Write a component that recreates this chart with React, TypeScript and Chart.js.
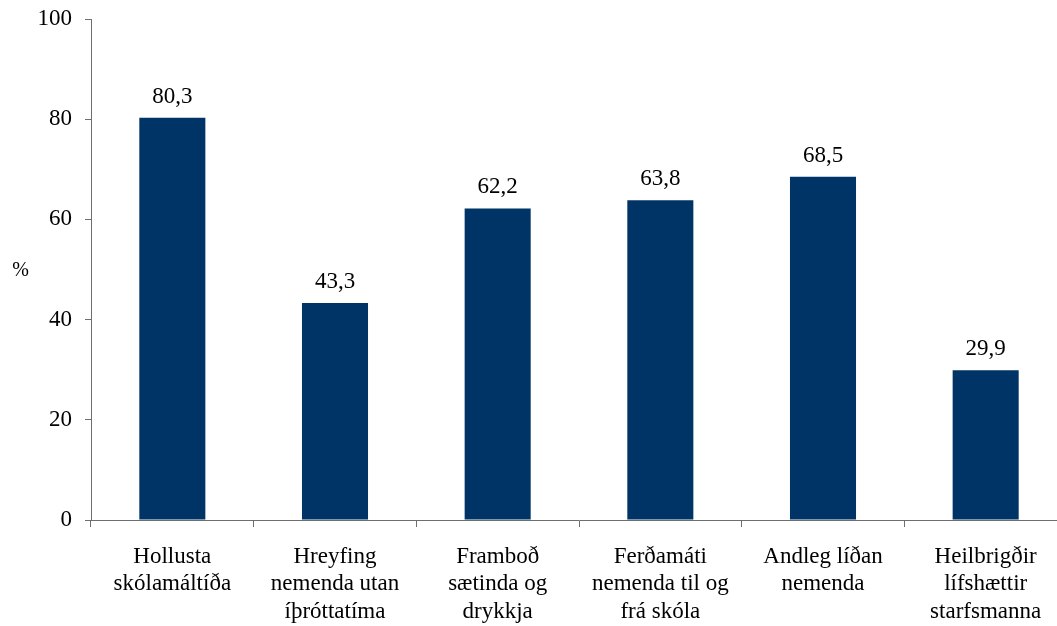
import React, { useEffect, useRef } from "react";
import { Chart, registerables } from "chart.js";

Chart.register(...registerables);

const categories: string[][] = [
  ["Hollusta", "skólamáltíða"],
  ["Hreyfing", "nemenda utan", "íþróttatíma"],
  ["Framboð", "sætinda og", "drykkja"],
  ["Ferðamáti", "nemenda til og", "frá skóla"],
  ["Andleg líðan", "nemenda"],
  ["Heilbrigðir", "lífshættir", "starfsmanna"],
];
const values: number[] = [80.3, 43.3, 62.2, 63.8, 68.5, 29.9];
const yTicks: number[] = [0, 20, 40, 60, 80, 100];
const yTitle = "%";

const FONT = '"Liberation Serif", "Times New Roman", serif';
const AXIS = "#6e6e6e";
const BAR = "#003366";

export default function App() {
  const ref = useRef<HTMLCanvasElement | null>(null);
  useEffect(() => {
    if (!ref.current) return;
    const labelPlugin = {
      id: "valueLabels",
      afterDatasetsDraw(chart: any) {
        const ctx = chart.ctx;
        const meta = chart.getDatasetMeta(0);
        ctx.save();
        ctx.fillStyle = "#000";
        ctx.font = `23px ${FONT}`;
        ctx.textAlign = "center";
        ctx.textBaseline = "alphabetic";
        meta.data.forEach((el: any, i: number) => {
          const txt = values[i].toFixed(1).replace(".", ",");
          ctx.fillText(txt, el.x, el.y - 15);
        });
        ctx.font = `20px ${FONT}`;
        ctx.textBaseline = "middle";
        ctx.fillText(yTitle, 20.5, 271);
        ctx.restore();
      },
    };
    const chart = new Chart(ref.current, {
      type: "bar",
      data: {
        labels: categories,
        datasets: [
          {
            data: values,
            backgroundColor: BAR,
            borderWidth: 0,
            categoryPercentage: 1,
            barPercentage: 0.406,
          },
        ],
      },
      options: {
        responsive: false,
        animation: false,
        devicePixelRatio: 1,
        layout: { padding: { top: 19, right: 0, left: 0, bottom: 0 } },
        plugins: {
          legend: { display: false },
          tooltip: { enabled: false },
          title: { display: false },
        },
        scales: {
          x: {
            afterFit: (s: any) => {
              s.height = 106;
              s.paddingLeft = 0;
              s.paddingRight = 0;
            },
            grid: {
              offset: true,
              drawOnChartArea: false,
              drawTicks: true,
              tickLength: 7,
              color: AXIS,
            },
            border: { display: true, color: AXIS, width: 1 },
            ticks: {
              color: "#000",
              font: { family: FONT, size: 23, lineHeight: 1.2 },
              padding: 16,
              maxRotation: 0,
              autoSkip: false,
            },
          },
          y: {
            min: 0,
            max: 100,
            afterFit: (s: any) => {
              s.width = 91;
              s.paddingTop = 0;
              s.paddingBottom = 0;
            },
            afterBuildTicks: (s: any) => {
              s.ticks = yTicks.map((v) => ({ value: v }));
            },
            grid: {
              drawOnChartArea: false,
              drawTicks: true,
              tickLength: 6,
              color: AXIS,
            },
            border: { display: true, color: AXIS, width: 1 },
            ticks: {
              color: "#000",
              font: { family: FONT, size: 23 },
              padding: 13,
            },
          },
        },
      },
      plugins: [labelPlugin],
    });
    return () => chart.destroy();
  }, []);
  return (
    <div
      style={{
        position: "fixed",
        left: 0,
        top: 0,
        width: 1057,
        height: 626,
        overflow: "hidden",
        background: "#fff",
      }}
    >
      <canvas ref={ref} width={1067} height={626} style={{ display: "block" }} />
    </div>
  );
}
